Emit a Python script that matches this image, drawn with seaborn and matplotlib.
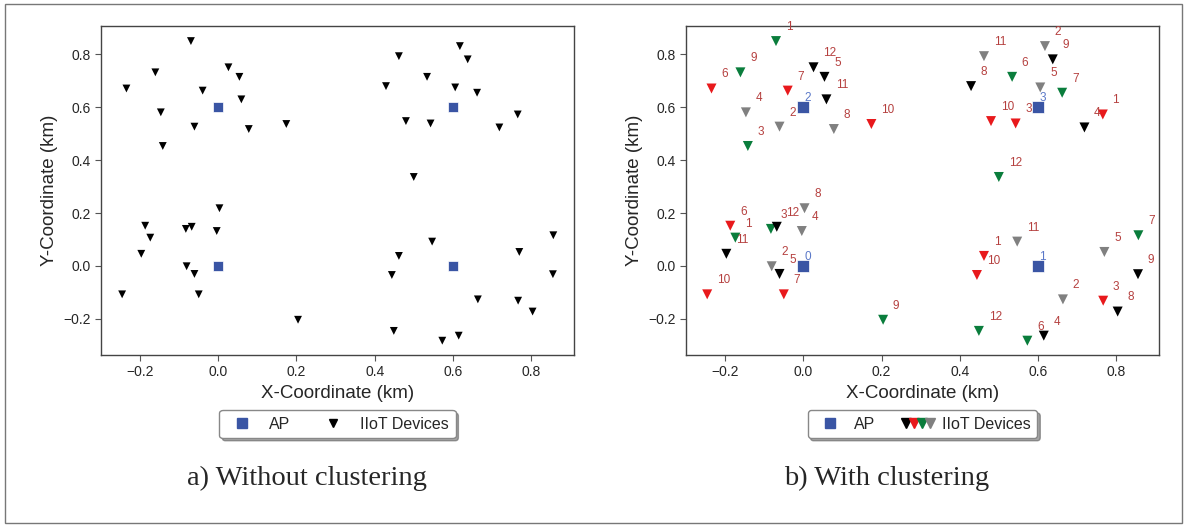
import numpy as np
import pandas as pd
import seaborn as sns
import matplotlib.pyplot as plt
from matplotlib.lines import Line2D
from matplotlib.patches import Rectangle
from matplotlib.legend_handler import HandlerTuple

# Posicoes dos APs (km)
ap_x = [0.0, 0.6, 0.0, 0.6]
ap_y = [0.0, 0.0, 0.6, 0.6]
ap_ids = ['0', '1', '2', '3']

# Dispositivos IIoT por AP (rotulos 1..12 em cada AP)
dev_x_ap0 = [-0.174, -0.081, -0.083, -0.004, -0.061, -0.187, -0.050, 0.003, 0.204, -0.246, -0.197, -0.068]
dev_y_ap0 = [0.107, -0.001, 0.140, 0.132, -0.030, 0.152, -0.107, 0.218, -0.203, -0.107, 0.046, 0.148]
dev_x_ap1 = [0.462, 0.664, 0.767, 0.615, 0.770, 0.573, 0.857, 0.804, 0.856, 0.444, 0.547, 0.449]
dev_y_ap1 = [0.038, -0.126, -0.131, -0.263, 0.053, -0.282, 0.116, -0.172, -0.031, -0.034, 0.092, -0.245]
dev_x_ap2 = [-0.070, -0.061, -0.142, -0.147, 0.054, -0.235, -0.040, 0.078, -0.161, 0.174, 0.059, 0.026]
dev_y_ap2 = [0.849, 0.526, 0.453, 0.580, 0.714, 0.670, 0.662, 0.517, 0.731, 0.536, 0.629, 0.750]
dev_x_ap3 = [0.766, 0.618, 0.543, 0.719, 0.606, 0.534, 0.662, 0.429, 0.638, 0.480, 0.462, 0.500]
dev_y_ap3 = [0.572, 0.830, 0.538, 0.523, 0.674, 0.714, 0.654, 0.679, 0.780, 0.547, 0.792, 0.336]

# Cluster de cada dispositivo (0 preto, 1 vermelho, 2 verde, 3 cinza)
cluster_ap0 = [2, 3, 2, 3, 0, 1, 1, 3, 2, 1, 0, 0]
cluster_ap1 = [1, 3, 1, 0, 3, 2, 2, 0, 0, 1, 3, 2]
cluster_ap2 = [2, 3, 2, 3, 0, 1, 1, 3, 2, 1, 0, 0]
cluster_ap3 = [1, 3, 1, 0, 3, 2, 2, 0, 0, 1, 3, 2]

dev_labels = [str(i) for i in range(1, 13)]
cluster_colors = {0: 'black', 1: '#e8191c', 2: '#0a7d3c', 3: '#808080'}
ap_color = '#3a55a4'

devices = pd.DataFrame({
    'x': dev_x_ap0 + dev_x_ap1 + dev_x_ap2 + dev_x_ap3,
    'y': dev_y_ap0 + dev_y_ap1 + dev_y_ap2 + dev_y_ap3,
    'cluster': cluster_ap0 + cluster_ap1 + cluster_ap2 + cluster_ap3,
    'label': dev_labels * 4,
})
aps = pd.DataFrame({'x': ap_x, 'y': ap_y, 'id': ap_ids})

sns.set_style('ticks')
plt.rcParams['font.family'] = ['Liberation Sans', 'DejaVu Sans']

fig = plt.figure(figsize=(11.87, 5.25), dpi=100)
ax1 = fig.add_axes([0.0851, 0.3238, 0.3985, 0.6267])
ax2 = fig.add_axes([0.578, 0.3238, 0.3985, 0.6267])

# a) sem clusterizacao
sns.scatterplot(data=devices, x='x', y='y', marker='v', color='black', s=32,
                edgecolor='none', ax=ax1, legend=False)
sns.scatterplot(data=aps, x='x', y='y', marker='s', color=ap_color, s=55,
                edgecolor='white', linewidth=0.5, ax=ax1, legend=False)

# b) com clusterizacao
sns.scatterplot(data=devices, x='x', y='y', hue='cluster', palette=cluster_colors,
                marker='v', s=52, edgecolor='none', ax=ax2, legend=False)
sns.scatterplot(data=aps, x='x', y='y', marker='s', color=ap_color, s=65,
                edgecolor='white', linewidth=0.5, ax=ax2, legend=False)
for _, r in devices.iterrows():
    ax2.annotate(r['label'], (r['x'], r['y']), xytext=(7, 8), textcoords='offset points',
                 fontsize=8.5, color='#b5403f')
for _, r in aps.iterrows():
    ax2.annotate(r['id'], (r['x'], r['y']), xytext=(1, 4), textcoords='offset points',
                 fontsize=8.5, color='#5a78c8')

for ax in (ax1, ax2):
    ax.set_xlim(-0.30, 0.91)
    ax.set_ylim(-0.336, 0.906)
    ax.set_xticks([-0.2, 0.0, 0.2, 0.4, 0.6, 0.8])
    ax.set_yticks([-0.2, 0.0, 0.2, 0.4, 0.6, 0.8])
    ax.set_xlabel('X-Coordinate (km)', fontsize=13.5)
    ax.set_ylabel('Y-Coordinate (km)', fontsize=13.5)
    ax.tick_params(labelsize=10, length=4, color='#555555')
    for sp in ax.spines.values():
        sp.set_color('#444444')
        sp.set_linewidth(1.0)

# legendas
h_ap = Line2D([], [], marker='s', color=ap_color, linestyle='none', markersize=7)
h_dev = Line2D([], [], marker='v', color='black', linestyle='none', markersize=6)
leg1 = ax1.legend([h_ap, h_dev], ['AP', 'IIoT Devices'], loc='center',
                  bbox_to_anchor=(0.5, -0.21), ncol=2, fontsize=11.5,
                  shadow=True, frameon=True, columnspacing=1.7, handletextpad=0.7,
                  handlelength=2.0, borderpad=0.4)
leg1.get_frame().set_edgecolor('#888888')

tri = tuple(Line2D([], [], marker='v', color=cluster_colors[k], linestyle='none', markersize=7)
            for k in range(4))
leg2 = ax2.legend([h_ap, tri], ['AP', 'IIoT Devices'], loc='center',
                  bbox_to_anchor=(0.5, -0.21), ncol=2, fontsize=11.5,
                  shadow=True, frameon=True, columnspacing=1.7, handletextpad=0.5,
                  borderpad=0.4, handlelength=2.0,
                  handler_map={tuple: HandlerTuple(ndivide=None, pad=0)})
leg2.get_frame().set_edgecolor('#888888')

# subtitulos
fig.text(0.2586, 0.0895, 'a) Without clustering', ha='center', va='center',
         fontsize=20.5, family=['Liberation Serif', 'DejaVu Serif'])
fig.text(0.7473, 0.0895, 'b) With clustering', ha='center', va='center',
         fontsize=20.5, family=['Liberation Serif', 'DejaVu Serif'])

# moldura externa
fig.patches.append(Rectangle((0.004, 0.004), 0.992, 0.988, transform=fig.transFigure,
                             fill=False, edgecolor='#777777', linewidth=1.0))

fig.savefig('out.png', dpi=100)
